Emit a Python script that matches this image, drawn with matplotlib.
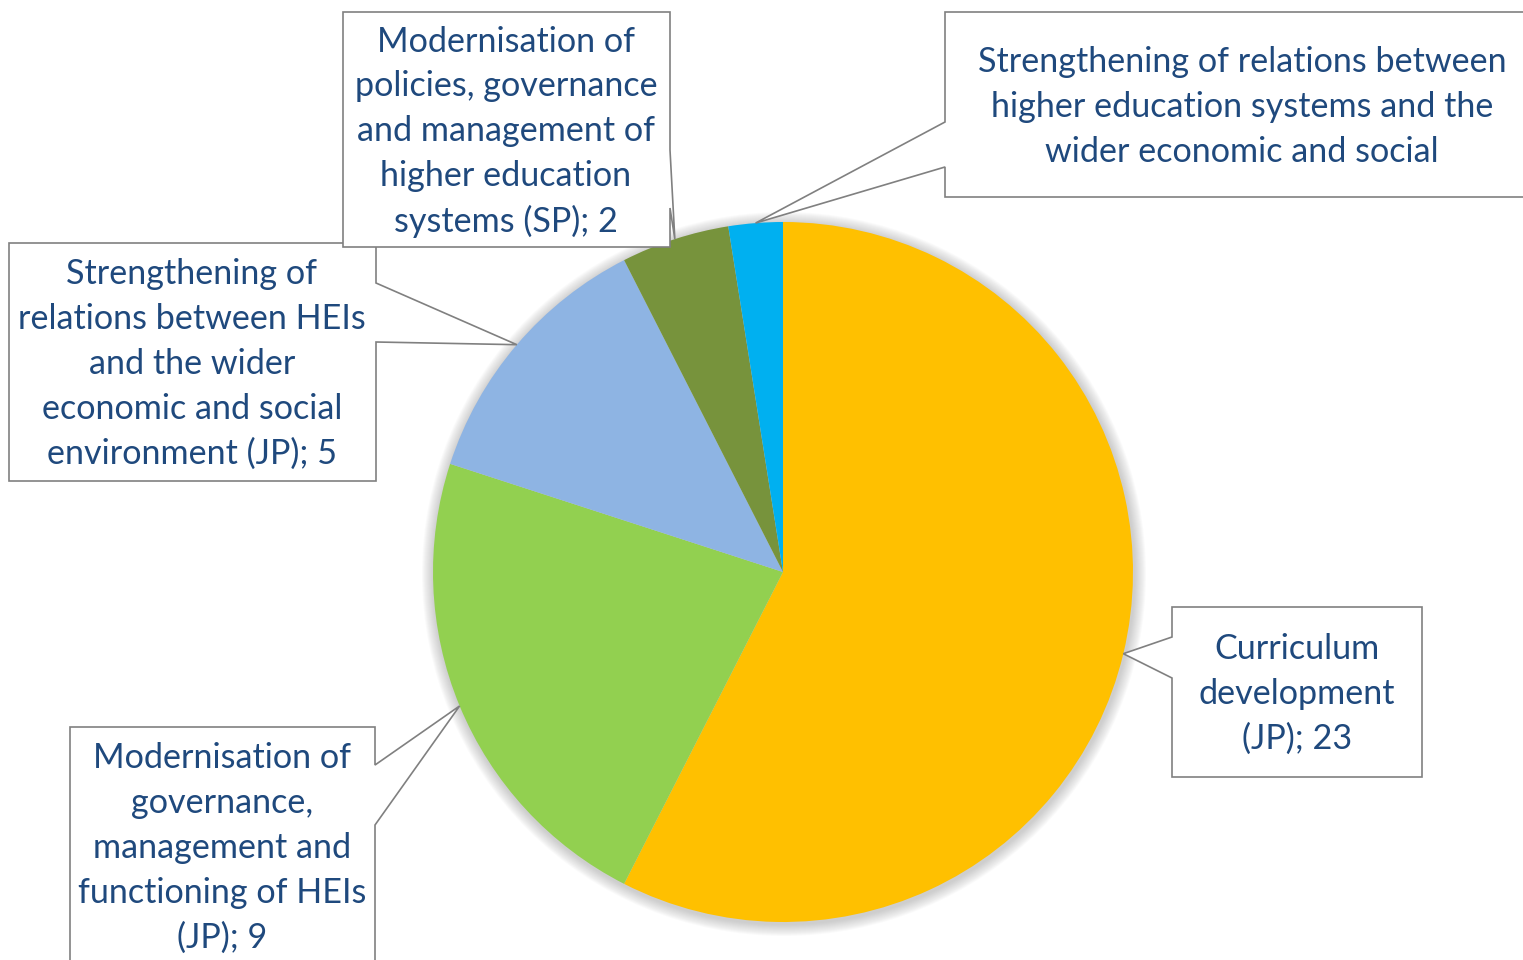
import numpy as np
import matplotlib.pyplot as plt
from matplotlib.patches import Polygon, Circle

plt.rcParams['font.family'] = ['Lato', 'DejaVu Sans']

labels = [
    "Curriculum\ndevelopment\n(JP); 23",
    "Modernisation of\ngovernance,\nmanagement and\nfunctioning of HEIs\n(JP); 9",
    "Strengthening of\nrelations between HEIs\nand the wider\neconomic and social\nenvironment (JP); 5",
    "Modernisation of\npolicies, governance\nand management of\nhigher education\nsystems (SP); 2",
    "Strengthening of relations between\nhigher education systems and the\nwider economic and social",
]
values = [23, 9, 5, 2, 1]
colors = ['#FFC000', '#92D050', '#8EB4E3', '#77933C', '#00B0F0']

W, H = 1523, 960
fig = plt.figure(figsize=(W / 100, H / 100), dpi=100)
ax = fig.add_axes([0, 0, 1, 1])

cx, cy, r = 783, H - 572, 350

# soft shadow
for k in range(12):
    ax.add_patch(Circle((cx + 1, cy - 2), r + 12 - k, color='#808080', alpha=0.035, lw=0, zorder=1))

wedges, _ = ax.pie(values, colors=colors, startangle=90, counterclock=False,
                   center=(cx, cy), radius=r, frame=True,
                   wedgeprops=dict(linewidth=0, zorder=2))
ax.set_xlim(0, W)
ax.set_ylim(0, H)
ax.set_aspect('equal')
ax.axis('off')

def py(y):
    return H - y

# box (x0, y0, x1, y1) in pixels from top, notch side and notch positions, text centre
boxes = [
    ((1172, 607, 1422, 777), 'left', (637, 678), (1297, 694)),
    ((70, 727, 375, 990), 'right', (765, 825), (222, 848)),
    ((9, 243, 376, 481), 'right', (283, 342), (192, 364)),
    ((343, 12, 670, 247), 'right', (150, 208), (506, 132)),
    ((945, 12, 1540, 197), 'left', (122, 167), (1242, 107)),
]

def callout(box, side, notch, anchor):
    x0, y0, x1, y1 = box
    ax_, ay_ = anchor
    n1, n2 = notch
    if side == 'left':
        pts = [(x0, y0), (x1, y0), (x1, y1), (x0, y1), (x0, n2), (ax_, ay_), (x0, n1)]
    else:
        pts = [(x0, y0), (x1, y0), (x1, n1), (ax_, ay_), (x1, n2), (x1, y1), (x0, y1)]
    return [(x, py(y)) for x, y in pts]

for i, (w, lab) in enumerate(zip(wedges, labels)):
    mid = np.deg2rad((w.theta1 + w.theta2) / 2)
    anchor = (cx + r * np.cos(mid), H - (cy + r * np.sin(mid)))
    box, side, notch, tc = boxes[i]
    ax.add_patch(Polygon(callout(box, side, notch, anchor), closed=True,
                         facecolor='white', edgecolor='#808080', lw=1.2, zorder=3 + i))
    ax.text(tc[0], py(tc[1]), lab, ha='center', va='center', fontsize=24.6,
            color='#1F497D', linespacing=1.49, zorder=3 + i)

fig.savefig('out.png', dpi=100)
